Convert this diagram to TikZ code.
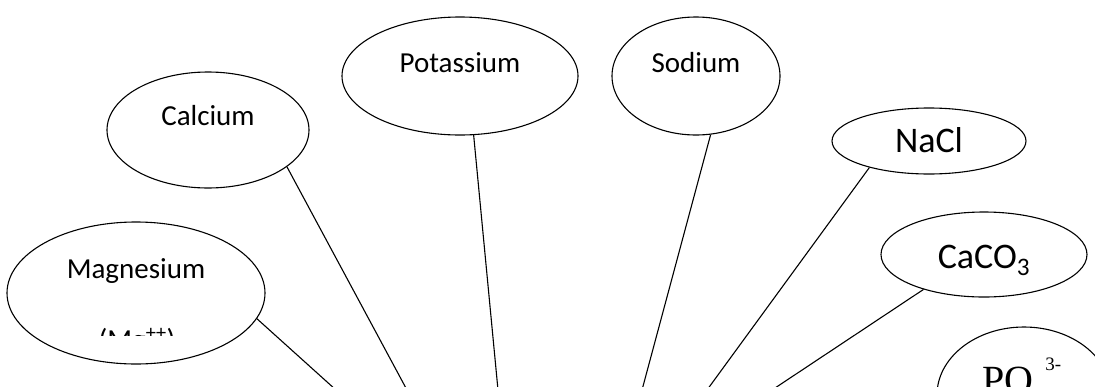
\documentclass[tikz,border=0pt]{standalone}
\usepackage{fontspec}
\setmainfont{Carlito}
\newfontfamily\timesfont{Liberation Serif}
\usetikzlibrary{shapes.geometric}
\tikzset{
  blob/.style={draw,ellipse,line width=1.1pt,inner sep=0pt},
  lbl/.style={inner sep=0pt,anchor=base,font=\fontsize{29}{35}\selectfont},
  biglbl/.style={inner sep=0pt,anchor=base,font=\fontsize{36}{43}\selectfont},
  ln/.style={line width=1.1pt}
}
\begin{document}
\begin{tikzpicture}[x=1pt,y=-1pt]
\clip (0,0) rectangle (1095,386);
% ellipses
\node[blob,minimum width=258,minimum height=142] (mg) at (136,293) {};
\node[blob,minimum width=202,minimum height=116] (ca) at (208,130) {};
\node[blob,minimum width=236,minimum height=118] (k) at (460,76) {};
\node[blob,minimum width=168,minimum height=118] (na) at (696,76) {};
\node[blob,minimum width=194,minimum height=66] (nacl) at (929,141) {};
\node[blob,minimum width=206,minimum height=85] (caco) at (984,254.5) {};
\node[blob,minimum width=174,minimum height=136] (po) at (1024,395) {};
% labels
\node[lbl] (mgtxt) at (136,278) {Magnesium};
\begin{scope}
\clip (0,0) rectangle (1095,335);
\node[lbl] (mgion) at (137,349) {(Mg\textsuperscript{++})};
\end{scope}
\node[lbl] (catxt) at (208,125) {Calcium};
\node[lbl] (ktxt) at (460,72) {Potassium};
\node[lbl] (natxt) at (696,72) {Sodium};
\node[biglbl] (nacltxt) at (929,152) {NaCl};
\node[biglbl] (cacotxt) at (984,268) {CaCO\textsubscript{3}};
\node[inner sep=0pt,anchor=base west,font=\timesfont\fontsize{40}{48}\selectfont] (potxt) at (982,393)
  {PO\hspace{12pt}\raisebox{23pt}{\fontsize{19}{21}\selectfont 3-}};
% spokes
\coordinate (mgend) at (336,390);
\coordinate (caend) at (407,390);
\coordinate (kend) at (498,390);
\coordinate (naend) at (642,390);
\coordinate (naclend) at (707,390);
\coordinate (cacoend) at (772,390);
\draw[ln] (mg.-12) -- (mgend);
\draw[ln] (ca.-25) -- (caend);
\draw[ln] (k.-77) -- (kend);
\draw[ln] (na.-76) -- (naend);
\draw[ln] (nacl.-156) -- (naclend);
\draw[ln] (caco.-150) -- (cacoend);
\end{tikzpicture}
\end{document}
